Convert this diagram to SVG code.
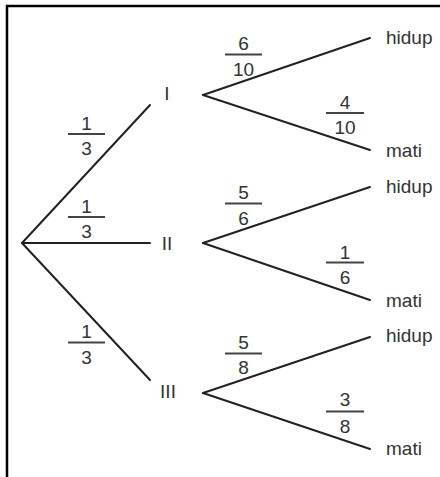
<svg xmlns="http://www.w3.org/2000/svg" width="440" height="477" viewBox="0 0 440 477">
<style>
.ln{stroke:#222;stroke-width:2;fill:none;stroke-linecap:round}
.bar{stroke:#444;stroke-width:2}
text{font-family:"Liberation Sans",Arial,sans-serif;fill:#333}
.f{font-size:19px;text-anchor:middle}
.w{font-size:19px}
.n{font-size:19px;text-anchor:middle}
</style>
<rect x="0" y="0" width="440" height="477" fill="#fff"/>
<path d="M7,480 V6 H445" stroke="#000" stroke-width="2.5" fill="none"/>
<g id="connectors">
<line class="ln" x1="22" y1="243" x2="150" y2="105"/>
<line class="ln" x1="22" y1="243" x2="150" y2="243"/>
<line class="ln" x1="22" y1="243" x2="150" y2="380"/>
<line class="ln" x1="203" y1="95" x2="370" y2="38"/>
<line class="ln" x1="203" y1="95" x2="370" y2="150"/>
<line class="ln" x1="203" y1="243" x2="370" y2="187"/>
<line class="ln" x1="203" y1="243" x2="370" y2="300"/>
<line class="ln" x1="203" y1="393" x2="370" y2="337"/>
<line class="ln" x1="203" y1="393" x2="370" y2="449"/>
</g>
<g id="labels-level1">
<g id="p1"><text class="f" x="86.5" y="130">1</text><line class="bar" x1="68" y1="134" x2="105" y2="134"/><text class="f" x="86.5" y="155">3</text></g>
<g id="p2"><text class="f" x="86.5" y="213">1</text><line class="bar" x1="68" y1="217" x2="105" y2="217"/><text class="f" x="86.5" y="238">3</text></g>
<g id="p3"><text class="f" x="86.5" y="338">1</text><line class="bar" x1="68" y1="342.5" x2="105" y2="342.5"/><text class="f" x="86.5" y="364">3</text></g>
</g>
<g id="nodeI"><text class="n" x="167" y="100">I</text></g>
<g id="nodeII"><text class="n" x="167" y="250">II</text></g>
<g id="nodeIII"><text class="n" x="168" y="398">III</text></g>
<g id="labels-level2">
<g><text class="f" x="243.5" y="50">6</text><line class="bar" x1="225" y1="54.5" x2="262" y2="54.5"/><text class="f" x="243.5" y="76">10</text></g>
<g><text class="f" x="345" y="108.5">4</text><line class="bar" x1="326" y1="113" x2="364" y2="113"/><text class="f" x="345" y="134">10</text></g>
<g><text class="f" x="243.5" y="198.5">5</text><line class="bar" x1="225" y1="203.5" x2="262" y2="203.5"/><text class="f" x="243.5" y="225">6</text></g>
<g><text class="f" x="345" y="258.5">1</text><line class="bar" x1="326" y1="262.5" x2="364" y2="262.5"/><text class="f" x="345" y="283.5">6</text></g>
<g><text class="f" x="243.5" y="348.5">5</text><line class="bar" x1="225" y1="353.5" x2="262" y2="353.5"/><text class="f" x="243.5" y="373.5">8</text></g>
<g><text class="f" x="345" y="405.5">3</text><line class="bar" x1="326" y1="411.5" x2="364" y2="411.5"/><text class="f" x="345" y="432.5">8</text></g>
</g>
<g id="leaf1"><text class="w" x="386" y="44">hidup</text></g>
<g id="leaf2"><text class="w" x="386" y="157">mati</text></g>
<g id="leaf3"><text class="w" x="386" y="193">hidup</text></g>
<g id="leaf4"><text class="w" x="386" y="306.5">mati</text></g>
<g id="leaf5"><text class="w" x="386" y="342">hidup</text></g>
<g id="leaf6"><text class="w" x="386" y="455">mati</text></g>
</svg>
